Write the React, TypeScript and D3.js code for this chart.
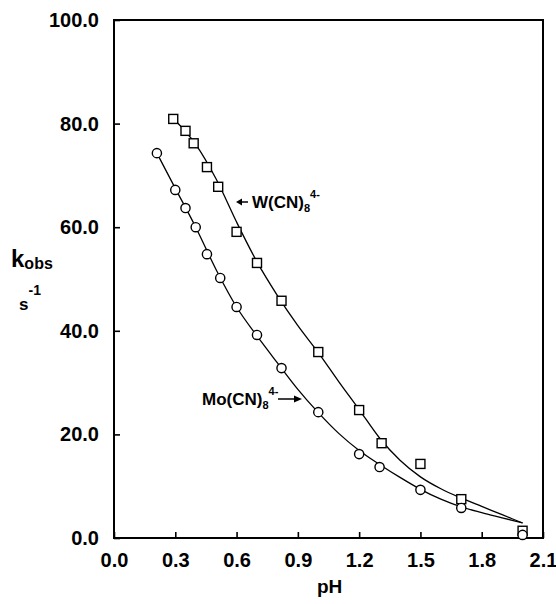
import { useEffect, useRef } from 'react';
import * as d3 from 'd3';

const wPH = [0.29, 0.35, 0.39, 0.455, 0.51, 0.6, 0.7, 0.82, 1.0, 1.2, 1.31, 1.5, 1.7, 2.0];
const wKobs = [80.9, 78.6, 76.2, 71.6, 67.8, 59.1, 53.1, 45.8, 35.9, 24.7, 18.3, 14.3, 7.5, 1.4];
const moPH = [0.21, 0.3, 0.35, 0.4, 0.455, 0.52, 0.6, 0.7, 0.82, 1.0, 1.2, 1.3, 1.5, 1.7, 2.0];
const moKobs = [74.3, 67.2, 63.7, 60.0, 54.8, 50.2, 44.6, 39.2, 32.8, 24.3, 16.2, 13.7, 9.3, 5.8, 0.6];

// fitted curves (traced)
const wFitPH = [0.29, 0.4, 0.5, 0.6, 0.7, 0.8, 0.9, 1.0, 1.1, 1.2, 1.3, 1.4, 1.5, 1.6, 1.7, 1.8, 1.9, 2.0];
const wFitK = [81, 76, 69.3, 61, 53.3, 46.8, 41, 35.8, 30.2, 24.8, 19.3, 15, 11.8, 9.5, 7.7, 6.1, 4.5, 2.9];
const moFitPH = [0.21, 0.3, 0.4, 0.5, 0.6, 0.7, 0.8, 0.9, 1.0, 1.1, 1.2, 1.3, 1.4, 1.5, 1.6, 1.7, 1.8, 1.9, 2.0];
const moFitK = [74.3, 67.5, 60, 51.8, 44.6, 39, 33.8, 28.7, 24.2, 20.2, 16.9, 14.2, 11.7, 9.4, 7.5, 6, 4.9, 3.9, 2.9];

const xTicks = [0, 0.3, 0.6, 0.9, 1.2, 1.5, 1.8, 2.1];
const yTicks = [0, 20, 40, 60, 80, 100];

const FONT = '"Liberation Sans", Arial, sans-serif';

export default function App() {
  const ref = useRef<SVGSVGElement>(null);

  useEffect(() => {
    const svg = d3.select(ref.current);
    svg.selectAll('*').remove();

    const left = 114, right = 543, top = 20, bottom = 538;
    const x = d3.scaleLinear().domain([0, 2.1]).range([left, right]);
    const y = d3.scaleLinear().domain([0, 100]).range([bottom, top]);

    const xAxis = d3.axisBottom(x).tickValues(xTicks).tickFormat(d3.format('.1f')).tickSizeInner(-6).tickSizeOuter(0).tickPadding(15);
    const yAxis = d3.axisLeft(y).tickValues(yTicks).tickFormat(d3.format('.1f')).tickSizeInner(-6).tickSizeOuter(0).tickPadding(15);

    const gx = svg.append('g').attr('transform', `translate(0,${bottom})`).call(xAxis);
    const gy = svg.append('g').attr('transform', `translate(${left},0)`).call(yAxis);
    [gx, gy].forEach(g => {
      g.select('.domain').remove();
      g.selectAll('line').attr('stroke', '#000').attr('stroke-width', 1.6);
      g.selectAll('text').attr('font-family', FONT).attr('font-weight', 'bold').attr('font-size', 20).attr('fill', '#000');
    });

    svg.append('rect')
      .attr('x', left).attr('y', top)
      .attr('width', right - left).attr('height', bottom - top)
      .attr('fill', 'none').attr('stroke', '#000').attr('stroke-width', 2);

    const line = d3.line<number>()
      .x((d, i) => x(d))
      .curve(d3.curveMonotoneX);

    svg.append('path')
      .attr('d', line.y((d, i) => y(wFitK[i]))(wFitPH))
      .attr('fill', 'none').attr('stroke', '#000').attr('stroke-width', 1.3);
    svg.append('path')
      .attr('d', line.y((d, i) => y(moFitK[i]))(moFitPH))
      .attr('fill', 'none').attr('stroke', '#000').attr('stroke-width', 1.3);

    svg.append('g').selectAll('rect')
      .data(wPH)
      .join('rect')
      .attr('x', d => x(d) - 4.5)
      .attr('y', (d, i) => y(wKobs[i]) - 4.5)
      .attr('width', 9).attr('height', 9)
      .attr('fill', '#fff').attr('stroke', '#000').attr('stroke-width', 1.4);

    svg.append('g').selectAll('circle')
      .data(moPH)
      .join('circle')
      .attr('cx', d => x(d))
      .attr('cy', (d, i) => y(moKobs[i]))
      .attr('r', 4.6)
      .attr('fill', '#fff').attr('stroke', '#000').attr('stroke-width', 1.4);

    const txt = (px: number, py: number, size: number) =>
      svg.append('text')
        .attr('x', px).attr('y', py)
        .attr('font-family', FONT).attr('font-weight', 'bold').attr('font-size', size).attr('fill', '#000');

    // W(CN)8 4- label with small left arrow
    svg.append('line')
      .attr('x1', 240).attr('y1', 202).attr('x2', 248).attr('y2', 202)
      .attr('stroke', '#000').attr('stroke-width', 1.5);
    svg.append('path')
      .attr('d', 'M236,202 L242,198.5 L242,205.5 Z')
      .attr('fill', '#000');
    const w = txt(252, 208, 17);
    w.append('tspan').text('W(CN)');
    w.append('tspan').text('8').attr('font-size', 11).attr('dy', 4);
    w.append('tspan').text('4-').attr('font-size', 11).attr('dy', -14);

    // Mo(CN)8 4- label with right arrow
    const mo = txt(202, 405, 17);
    mo.append('tspan').text('Mo(CN)');
    mo.append('tspan').text('8').attr('font-size', 11).attr('dy', 4);
    mo.append('tspan').text('4-').attr('font-size', 11).attr('dy', -14);
    svg.append('line')
      .attr('x1', 278).attr('y1', 399).attr('x2', 298).attr('y2', 399)
      .attr('stroke', '#000').attr('stroke-width', 1.5);
    svg.append('path')
      .attr('d', 'M302,399 L294,395.5 L294,402.5 Z')
      .attr('fill', '#000');

    // axis titles
    txt(317, 593, 19).text('pH');
    const k = txt(11, 267, 24);
    k.append('tspan').text('k');
    k.append('tspan').text('obs').attr('font-size', 16).attr('dy', 2);
    const s = txt(19, 310, 17);
    s.append('tspan').text('s');
    s.append('tspan').text('-1').attr('font-size', 14).attr('dy', -15);
  }, []);

  return (
    <svg
      ref={ref}
      width={556}
      height={604}
      style={{ position: 'absolute', left: 0, top: 0, background: '#fff' }}
    />
  );
}
